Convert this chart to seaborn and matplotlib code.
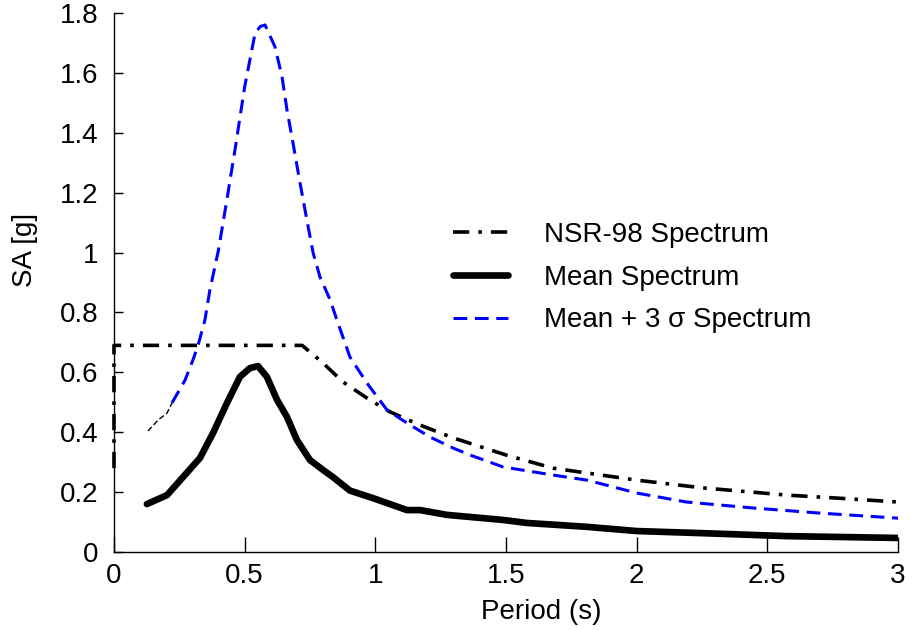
import numpy as np
import pandas as pd
import matplotlib
matplotlib.use("Agg")
import matplotlib.pyplot as plt
import seaborn as sns

# values
nsr_t = [0.0, 0.0, 0.72, 0.80, 0.876, 0.968, 1.056, 1.171, 1.298, 1.50, 1.68, 2.0, 2.254, 2.575, 2.767, 3.0]
nsr_sa = [0.28, 0.69, 0.69, 0.631, 0.568, 0.514, 0.468, 0.424, 0.381, 0.324, 0.28, 0.24, 0.214, 0.19, 0.18, 0.167]

mean_t = [0.126, 0.203, 0.264, 0.329, 0.379, 0.432, 0.482, 0.52, 0.551, 0.585, 0.624, 0.662,
          0.70, 0.75, 0.80, 0.838, 0.903, 0.991, 1.121, 1.171, 1.274, 1.489, 1.58, 1.81,
          2.0, 2.25, 2.575, 3.0]
mean_sa = [0.16, 0.19, 0.25, 0.314, 0.397, 0.497, 0.585, 0.614, 0.621, 0.585, 0.508, 0.451,
           0.374, 0.307, 0.274, 0.25, 0.205, 0.18, 0.14, 0.14, 0.124, 0.107, 0.097, 0.084,
           0.07, 0.063, 0.053, 0.047]

sig_t = [0.222, 0.272, 0.302, 0.321, 0.348, 0.367, 0.40, 0.432, 0.463, 0.50, 0.54, 0.56, 0.578,
         0.616, 0.643, 0.662, 0.685, 0.712, 0.738, 0.762, 0.788, 0.827, 0.853, 0.903, 0.968,
         1.045, 1.121, 1.209, 1.298, 1.362, 1.489, 1.68, 1.81, 2.0, 2.19, 2.445, 2.70, 3.0]
sig_sa = [0.498, 0.574, 0.641, 0.688, 0.775, 0.875, 1.009, 1.176, 1.343, 1.553, 1.733, 1.755, 1.76,
          1.687, 1.587, 1.476, 1.366, 1.232, 1.109, 0.999, 0.919, 0.842, 0.775, 0.651, 0.564,
          0.474, 0.431, 0.384, 0.347, 0.324, 0.284, 0.257, 0.24, 0.197, 0.167, 0.147, 0.13, 0.113]

# thin black start of the +3 sigma curve
start_t = [0.130, 0.168, 0.203, 0.222]
start_sa = [0.404, 0.44, 0.464, 0.498]

labels = ["NSR-98 Spectrum", "Mean Spectrum", "Mean + 3 \u03c3 Spectrum"]

sns.set_theme(style="ticks")
plt.rcParams['font.family'] = ['Liberation Sans', 'DejaVu Sans']
plt.rcParams['text.color'] = 'black'
plt.rcParams['axes.labelcolor'] = 'black'

fig = plt.figure(figsize=(9.14, 6.3), dpi=100)
ax = fig.add_axes([0.1247, 0.1238, 0.8578, 0.8556])

sns.lineplot(x=nsr_t, y=nsr_sa, ax=ax, color="black", lw=2.6, sort=False, estimator=None,
             linestyle=(0, (4.5, 2.5, 1, 2.5)), label=labels[0], clip_on=False)
sns.lineplot(x=mean_t, y=mean_sa, ax=ax, color="black", lw=4.8, sort=False, estimator=None,
             label=labels[1])
sns.lineplot(x=sig_t, y=sig_sa, ax=ax, color="blue", lw=2.2, sort=False, estimator=None,
             linestyle=(0, (4.5, 2.5)), label=labels[2])
sns.lineplot(x=start_t, y=start_sa, ax=ax, color="black", lw=1.0, sort=False, estimator=None,
             linestyle=(0, (4, 2)), legend=False)

ax.set_xlim(0, 3)
ax.set_ylim(0, 1.8)
ax.set_xticks([0, 0.5, 1, 1.5, 2, 2.5, 3])
ax.set_xticklabels(["0", "0.5", "1", "1.5", "2", "2.5", "3"])
ax.set_yticks([0, 0.2, 0.4, 0.6, 0.8, 1.0, 1.2, 1.4, 1.6, 1.8])
ax.set_yticklabels(["0", "0.2", "0.4", "0.6", "0.8", "1", "1.2", "1.4", "1.6", "1.8"])

ax.tick_params(axis="x", direction="in", length=11, width=1, labelsize=20, pad=8, colors="black")
ax.tick_params(axis="y", direction="in", length=6.5, width=1, labelsize=20, pad=11, colors="black")

for s in ["top", "right"]:
    ax.spines[s].set_visible(False)
for s in ["left", "bottom"]:
    ax.spines[s].set_color("black")
    ax.spines[s].set_linewidth(1.0)

ax.set_xlabel("Period (s)", fontsize=20)
ax.set_ylabel("SA [g]", fontsize=20)
ax.xaxis.set_label_coords(0.545, -0.088)
ax.yaxis.set_label_coords(-0.097, 0.56)

ax.legend(loc="upper left", bbox_to_anchor=(0.432, 0.612), frameon=False, fontsize=20,
          handlelength=2.0, handletextpad=1.3, borderpad=0, borderaxespad=0, labelspacing=0.6)

fig.savefig("out.png", dpi=100)
